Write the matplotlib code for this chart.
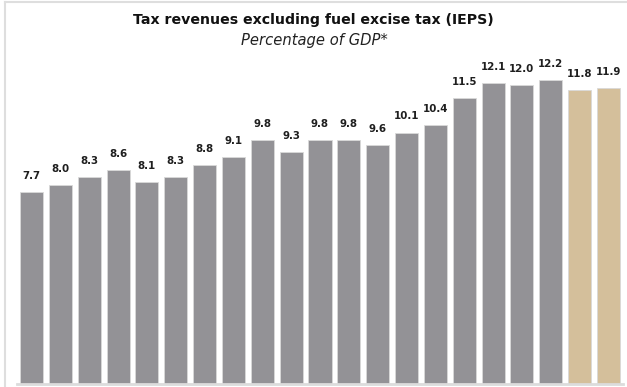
import matplotlib
matplotlib.use("Agg")
import matplotlib.pyplot as plt
from matplotlib.lines import Line2D

values = [7.7, 8.0, 8.3, 8.6, 8.1, 8.3, 8.8, 9.1, 9.8, 9.3, 9.8, 9.8, 9.6,
          10.1, 10.4, 11.5, 12.1, 12.0, 12.2, 11.8, 11.9]
labels = ["7.7", "8.0", "8.3", "8.6", "8.1", "8.3", "8.8", "9.1", "9.8", "9.3",
          "9.8", "9.8", "9.6", "10.1", "10.4", "11.5", "12.1", "12.0", "12.2",
          "11.8", "11.9"]
n_estimate = 2  # last bars are estimates

gray = "#939296"
tan = "#d4bf9b"
colors = [gray] * (len(values) - n_estimate) + [tan] * n_estimate

W, H = 627, 387
fig = plt.figure(figsize=(W / 100, H / 100), dpi=100)
fig.patch.set_facecolor("white")

ax_left, ax_right = 17.1, 622.9
ax_bottom = 3.0
ymax = 13.0
ax_height = ymax * 24.9
ax = fig.add_axes([ax_left / W, ax_bottom / H, (ax_right - ax_left) / W, ax_height / H])

x = list(range(len(values)))
ax.bar(x, values, width=0.8, color=colors, edgecolor="#d9d9d9", linewidth=0.6, zorder=2)
for xi, v, lab in zip(x, values, labels):
    ax.annotate(lab, (xi, v), xytext=(0, 8), textcoords="offset points",
                ha="center", va="bottom", fontsize=7.4, fontweight="bold",
                color="#1f1f1f", family="DejaVu Sans")

ax.set_xlim(-0.5, len(values) - 0.5)
ax.set_ylim(0, ymax)
for s in ["top", "right", "left"]:
    ax.spines[s].set_visible(False)
ax.spines["bottom"].set_color("#dcdcdc")
ax.spines["bottom"].set_linewidth(2)
ax.set_xticks([])
ax.set_yticks([])
ax.patch.set_alpha(0)

# frame lines at top and left
fig.add_artist(Line2D([4.5 / W, 1.0], [1 - 2 / H, 1 - 2 / H], color="#dedede", lw=1.5,
                      transform=fig.transFigure))
fig.add_artist(Line2D([4.5 / W, 4.5 / W], [0, 1 - 2 / H], color="#dedede", lw=1.5,
                      transform=fig.transFigure))

fig.text(313 / W, 1 - 20 / H, "Tax revenues excluding fuel excise tax (IEPS)",
         ha="center", va="center", fontsize=10.2, fontweight="bold", color="#111111")
fig.text(314 / W, 1 - 40 / H, "Percentage of GDP*", ha="center", va="center",
         fontsize=10.6, style="italic", color="#222222")

fig.savefig("out.png", dpi=100)
